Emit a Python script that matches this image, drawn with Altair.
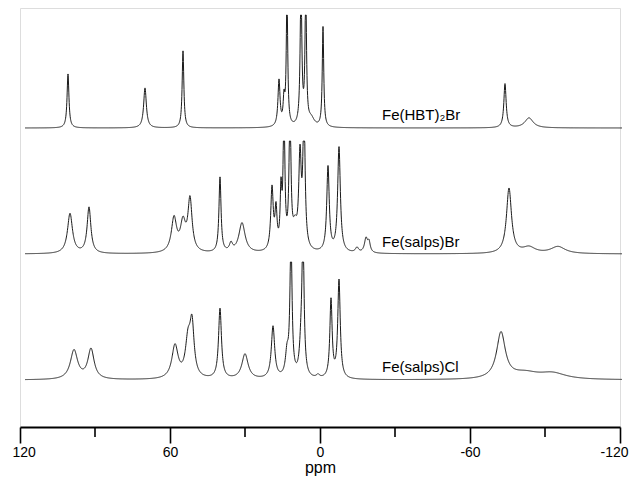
import numpy as np
import pandas as pd
import altair as alt

# ---- data ----
traces = ["Fe(HBT)₂Br", "Fe(salps)Br", "Fe(salps)Cl"]
baselines = [299, 173, 47]          # vertical offset of each trace
clip_heights = [113, 113, 118]      # peaks run off the trace window above this
label_ppm = [-24.8, -24.8, -24.8]
label_rise = [13, 12, 13]
trace_start, trace_end = 118.0, -120.8

# Fe(HBT)2Br peaks: position (ppm), height, width (FWHM, ppm)
hbt_pos = [100.8, 70.0, 54.8, 16.4, 14.4, 13.2, 7.6, 5.7, 3.5, -1.2, -74.0, -83.6]
hbt_height = [54, 40, 77, 46, 25, 130, 140, 135, 8, 100, 44, 10]
hbt_width = [0.9, 1.3, 0.8, 1.0, 0.8, 0.7, 0.8, 0.7, 3.0, 0.7, 1.1, 4.0]

# Fe(salps)Br peaks
br_pos = [100.0, 92.4, 58.4, 54.8, 52.0, 40.0, 35.6, 31.2, 19.2, 17.6, 15.6, 14.4,
          12.0, 10.0, 8.0, 6.4, -3.2, -7.6, -14.8, -18.4, -19.6, -75.6, -83.6, -95.2]
br_height = [40, 46, 34, 28, 52, 75, 8, 30, 62, 38, 55, 140,
             140, 20, 90, 140, 85, 105, 5, 14, 10, 65, 6, 7]
br_width = [2.4, 1.8, 2.5, 2.5, 2.0, 1.0, 1.5, 3.0, 1.2, 1.0, 0.8, 0.8,
            0.9, 2.0, 1.2, 1.0, 1.2, 1.3, 1.5, 1.5, 1.2, 2.4, 6.0, 7.0]

# Fe(salps)Cl peaks
cl_pos = [98.4, 91.6, 58.0, 52.8, 51.2, 40.0, 30.0, 18.8, 13.2, 11.6, 7.6, 6.8,
          0.8, -4.4, -7.6, -72.4, -82.0, -93.0]
cl_height = [29, 30, 33, 35, 50, 70, 25, 52, 22, 140, 25, 140,
             3, 78, 98, 46, 6, 6]
cl_width = [3.5, 3.0, 3.0, 2.5, 2.0, 1.4, 3.0, 1.6, 1.5, 1.0, 1.5, 1.0,
            1.5, 1.1, 1.2, 4.2, 13.0, 13.0]

tick_values = [120, 60, 0, -60, -120]
minor_ticks = [90, 30, -30, -90]

# ---- build the traces from the peak lists ----
ppm = np.round(np.arange(trace_start, trace_end - 0.0001, -0.08), 3)
peak_sets = [(hbt_pos, hbt_height, hbt_width),
             (br_pos, br_height, br_width),
             (cl_pos, cl_height, cl_width)]

frames = []
for name, base, cap, (pos, hgt, wid) in zip(traces, baselines, clip_heights, peak_sets):
    s = np.zeros_like(ppm)
    for p, h, w in zip(pos, hgt, wid):
        g = (w / 2.0) ** 2
        s += h * g / ((ppm - p) ** 2 + g)
    s = np.minimum(s, cap)
    frames.append(pd.DataFrame({"ppm": ppm, "y": np.round(base + s, 2), "trace": name}))
spec = pd.concat(frames, ignore_index=True)

labels = pd.DataFrame({
    "ppm": label_ppm,
    "y": [b + r for b, r in zip(baselines, label_rise)],
    "text": traces,
})
minor = pd.DataFrame({"ppm": minor_ticks})

xscale = alt.Scale(domain=[120, -120], nice=False, zero=False)
yscale = alt.Scale(domain=[0, 419], nice=False, zero=False)

lines = alt.Chart(spec).mark_line(color="#1a1a1a", strokeWidth=1, clip=False).encode(
    x=alt.X("ppm:Q", scale=xscale,
            axis=alt.Axis(values=tick_values, title="ppm", labelExpr="'' + datum.value",
                          labelFlush=True, labelFlushOffset=8,
                          tickSize=16, tickWidth=1.6, tickColor="black",
                          domainColor="black", domainWidth=2.2, grid=False,
                          labelFont="Liberation Sans", labelFontSize=14, labelColor="black",
                          labelPadding=2, titleFont="Liberation Sans", titleFontSize=16,
                          titleFontWeight="normal", titleColor="black", titlePadding=0)),
    y=alt.Y("y:Q", scale=yscale, axis=None),
    detail="trace:N",
)

minor_rules = alt.Chart(minor).mark_rule(color="black", strokeWidth=1.6).encode(
    x=alt.X("ppm:Q", scale=xscale),
    y=alt.value(419),
    y2=alt.value(429),
)

text = alt.Chart(labels).mark_text(
    align="left", baseline="middle", font="Liberation Sans", fontSize=15, color="black"
).encode(
    x=alt.X("ppm:Q", scale=xscale),
    y=alt.Y("y:Q", scale=yscale),
    text="text:N",
)

chart = alt.layer(lines, minor_rules, text).properties(
    width=600, height=419,
    padding={"left": 12, "top": 0, "right": 12, "bottom": 49},
    autosize=alt.AutoSizeParams(type="none"),
).configure_view(stroke=None).configure(background="white")

chart.save("out.html", embed_options={"renderer": "svg", "actions": False})
